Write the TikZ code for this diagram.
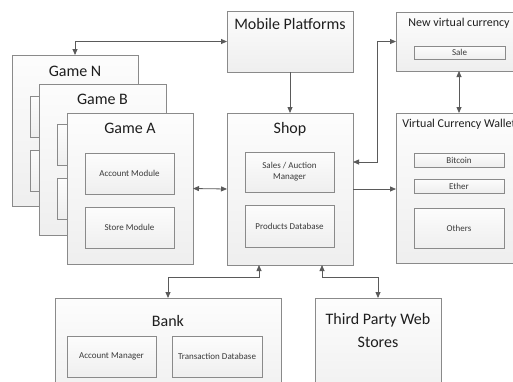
\documentclass[tikz,border=0pt]{standalone}
\usepackage{fontspec}
\setmainfont{Carlito}
\usetikzlibrary{shadows,arrows.meta,calc}
\definecolor{bordercol}{HTML}{8A8A8A}
\definecolor{linecol}{HTML}{5A5A5A}
\definecolor{txtcol}{HTML}{1E1E1E}
\definecolor{smalltxt}{HTML}{3A3A3A}
\begin{document}
\begin{tikzpicture}[x=1pt,y=-1pt,
  box/.style={draw=bordercol, line width=0.8pt, top color=gray!2, bottom color=gray!13,
    drop shadow={shadow xshift=1.2pt, shadow yshift=-1.2pt, opacity=0.35},
    inner sep=0pt, outer sep=0pt, anchor=north west},
  inbox/.style={box, font=\fontsize{9}{11}\selectfont, text=smalltxt, align=center},
  title/.style={font=\fontsize{16}{18}\selectfont, text=txtcol, inner sep=0pt, align=center},
  stitle/.style={font=\fontsize{12}{14}\selectfont, text=txtcol, inner sep=0pt, align=center},
  conn/.style={draw=linecol, line width=0.8pt, {Triangle[length=6pt,width=5pt]}-{Triangle[length=6pt,width=5pt]}},
  conn1/.style={draw=linecol, line width=0.8pt, -{Triangle[length=6pt,width=5pt]}}]
\clip (0,0) rectangle (513,381);
\fill[white] (0,0) rectangle (513,381);

% Game N
\node[box, minimum width=126pt, minimum height=151pt] (gameN) at (12,55) {};
\node[title] (gameNt) at (75,71) {Game N};
\node[inbox, minimum width=89pt, minimum height=41pt] (gameNa) at (30,96) {};
\node[inbox, minimum width=89pt, minimum height=41pt] (gameNs) at (30,150) {};
% Game B
\node[box, minimum width=127pt, minimum height=151pt] (gameB) at (39,84) {};
\node[title] (gameBt) at (102.5,99) {Game B};
\node[inbox, minimum width=89pt, minimum height=41pt] (gameBa) at (57,124) {};
\node[inbox, minimum width=89pt, minimum height=41pt] (gameBs) at (57,178) {};
% Game A
\node[box, minimum width=126pt, minimum height=151pt] (gameA) at (67,113) {};
\node[title] (gameAt) at (130,128) {Game A};
\node[inbox, minimum width=89pt, minimum height=41pt] (acc) at (85,153) {Account Module};
\node[inbox, minimum width=89pt, minimum height=41pt] (store) at (85,207) {Store Module};

% Mobile Platforms
\node[box, minimum width=126pt, minimum height=61pt] (mobile) at (227,11) {};
\node[title] (mobilet) at (290,24) {Mobile Platforms};

% Shop
\node[box, minimum width=126pt, minimum height=152pt] (shop) at (227,113) {};
\node[title] (shopt) at (290,129) {Shop};
\node[inbox, minimum width=89pt, minimum height=40pt] (sales) at (245,152) {Sales / Auction\\Manager};
\node[inbox, minimum width=89pt, minimum height=42pt] (prod) at (245,205) {Products Database};

% New virtual currency
\node[box, minimum width=126pt, minimum height=59pt] (newvc) at (396,12) {};
\node[stitle] (newvct) at (459,23) {New virtual currency};
\node[inbox, minimum width=91pt, minimum height=13pt] (sale) at (414,46) {Sale};

% Wallet
\node[box, minimum width=126pt, minimum height=150pt] (wallet) at (396,113) {};
\node[stitle] (wallett) at (459,124) {Virtual Currency Wallet};
\node[inbox, minimum width=90pt, minimum height=14pt] (btc) at (414,153) {Bitcoin};
\node[inbox, minimum width=90pt, minimum height=14pt] (eth) at (414,179) {Ether};
\node[inbox, minimum width=90pt, minimum height=40pt] (oth) at (414,208) {Others};

% Bank
\node[box, minimum width=226pt, minimum height=110pt] (bank) at (55,298) {};
\node[title] (bankt) at (168,321) {Bank};
\node[inbox, minimum width=89pt, minimum height=41pt] (accm) at (67,336) {Account Manager};
\node[inbox, minimum width=90pt, minimum height=41pt] (trans) at (172,336) {Transaction Database};

% Third party
\node[box, minimum width=126pt, minimum height=110pt] (third) at (315,298) {};
\node[title, font=\fontsize{16}{23}\selectfont] (thirdt) at (378,330) {Third Party Web\\Stores};

% Connectors
\draw[conn] (mobile.west) -| (gameN.north);
\draw[conn1] (mobile.south) -- (shop.north);
\draw[conn] (gameA.east) -- (shop.west);
\draw[conn] ($(shop.north east)+(0,49)$) -- ++(24,0) |- (newvc.west);
\draw[conn1] (shop.east) -- (shop.east -| wallet.west);
\draw[conn] (newvc.south) -- (wallet.north);
\draw[conn] ($(shop.south)+(-31,0)$) -- ++(0,12) -| (bank.north);
\draw[conn] ($(shop.south)+(32,0)$) -- ++(0,12) -| (third.north);
\end{tikzpicture}
\end{document}
